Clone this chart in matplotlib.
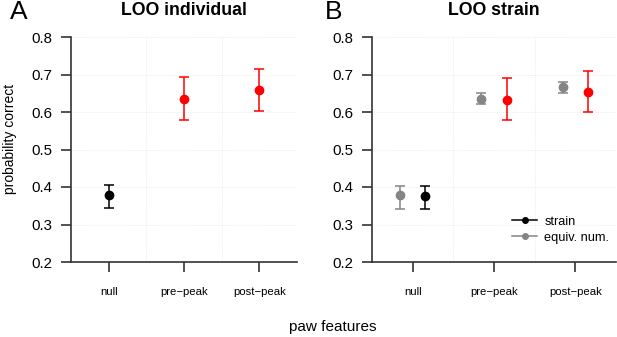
import matplotlib
matplotlib.use("Agg")
import matplotlib.pyplot as plt
from matplotlib.lines import Line2D

plt.rcParams['font.family'] = ['Liberation Sans', 'DejaVu Sans']

categories = ["null", "pre\u2212peak", "post\u2212peak"]

# panel A: LOO individual
a_mean = [0.379, 0.636, 0.658]
a_low = [0.345, 0.579, 0.604]
a_high = [0.406, 0.694, 0.716]
a_colors = ["black", "red", "red"]

# panel B: LOO strain
b_mean = [0.377, 0.633, 0.654]
b_low = [0.342, 0.579, 0.600]
b_high = [0.404, 0.690, 0.709]
b_colors = ["black", "red", "red"]

equiv_mean = [0.378, 0.636, 0.666]
equiv_low = [0.342, 0.622, 0.651]
equiv_high = [0.404, 0.651, 0.681]
gray = "#858585"

fig = plt.figure(figsize=(6.17, 3.37), dpi=100)
axA = fig.add_axes([71/617, 1-262/337, 226/617, 225/337])
axB = fig.add_axes([372/617, 1-262/337, 244/617, 225/337])


def style(ax, title):
    ax.set_xlim(0.5, 3.5)
    ax.set_ylim(0.2, 0.8)
    ax.set_yticks([0.2, 0.3, 0.4, 0.5, 0.6, 0.7, 0.8])
    ax.set_xticks([1, 2, 3])
    ax.set_xticklabels(categories, fontsize=8.2)
    ax.tick_params(axis='y', labelsize=10.8, length=7, width=1.2, pad=6.5, color="#333333")
    ax.tick_params(axis='x', length=7, width=1.2, pad=11, color="#333333")
    for s in ["top", "right"]:
        ax.spines[s].set_visible(False)
    for s in ["left", "bottom"]:
        ax.spines[s].set_linewidth(1.2)
        ax.spines[s].set_color("#333333")
    for y in [0.3, 0.4, 0.5, 0.6, 0.7, 0.8]:
        ax.axhline(y, color="#eeeeee", lw=0.7, ls=(0, (1, 1)), zorder=0)
    for x in [1.5, 2.5, 3.5]:
        ax.axvline(x, color="#eeeeee", lw=0.7, ls=(0, (1, 1)), zorder=0)
    ax.set_title(title, fontsize=12.8, fontweight="bold", pad=16)


def errpts(ax, xs, mean, low, high, colors):
    for x, m, l, h, c in zip(xs, mean, low, high, colors):
        ax.errorbar([x], [m], yerr=[[m - l], [h - m]], fmt='o', color=c,
                    ms=6, capsize=3.5, elinewidth=1.1, capthick=1.1, zorder=3)


style(axA, "LOO individual")
errpts(axA, [1, 2, 3], a_mean, a_low, a_high, a_colors)

style(axB, "LOO strain")
off = 0.155
errpts(axB, [x - off for x in [1, 2, 3]], equiv_mean, equiv_low, equiv_high, [gray] * 3)
errpts(axB, [x + off for x in [1, 2, 3]], b_mean, b_low, b_high, b_colors)

handles = [Line2D([], [], color="black", marker='o', ms=4, lw=1.1),
           Line2D([], [], color=gray, marker='o', ms=4, lw=1.1)]
axB.legend(handles, ["strain", "equiv. num."], loc="lower right", frameon=False,
           fontsize=9.2, handlelength=1.9, handletextpad=0.6, labelspacing=0.3,
           bbox_to_anchor=(1.02, 0.03))

fig.text(10/617, 1-139/337, "probability correct", rotation=90, fontsize=10,
         ha="center", va="center")
fig.text(333/617, 1-327/337, "paw features", fontsize=11, ha="center", va="center")
fig.text(19/617, 1-12/337, "A", fontsize=19, ha="center", va="center")
fig.text(334/617, 1-12/337, "B", fontsize=19, ha="center", va="center")

fig.savefig("out.png", dpi=100)
